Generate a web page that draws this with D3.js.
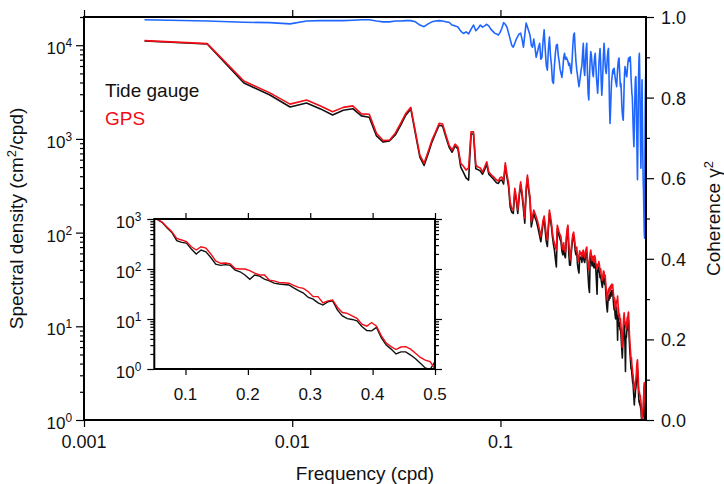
<!DOCTYPE html>
<html>
<head>
<meta charset="utf-8">
<script src="https://cdn.jsdelivr.net/npm/d3@7"></script>
<style>
body { margin: 0; background: #fff; }
svg { font-family: "Liberation Sans", Arial, Helvetica, sans-serif; }
</style>
</head>
<body>
<div id="chart"></div>
<script>
// spectra are sampled at k/512 cpd, k = 1..256
var nFreq = 256;
var freqStep = 1 / 512;

var tideGauge = [
    11100,10300,3950,2940,2190,2420,2090,1800,2020,2100,1760,1700,1075,925,950,1100,
    1400,1800,2090,1130,640,520,690,925,1150,1400,1370,1050,820,720,840,780,
    500,440,383,364,1130,1130,480,470,455,420,470,540,420,400,380,360,
    340,335,360,365,330,520,390,310,189,165,160,275,220,160,240,325,
    250,180,126,270,385,280,220,115,135,160,145,135,120,105,92,80,
    100,125,140,105,80,71,110,160,135,115,90,75,65,52,43,110,
    100,92,85,80,64,58,70,57,54,80,100,110,60,45,45,60,
    75,88,93,80,64,58,62,46,40,37,55,52,55,48,57,58,
    50,48,55,60,62,44,34,26,23,50,58,50,44,49,49,42,
    50,48,40,30,22,40,38,43,40,33,35,31,28,26,30,34,
    33,28,30,24,19,16,14.2,18,21,19,22,20,23,21,24,22,
    24,20,17,15,16,13,12,14,16,12,7.1,13,12,10,11,9.2,
    9.5,8.3,6.8,5.6,4.6,6.2,8,10,11,9.5,6,3.3,7.8,7.6,8.8,10,
    9.2,11,11.5,8.8,6.8,5.6,4.8,4.1,3.5,3.6,3.1,2.8,2.5,2.4,2.0,1.7,
    1.45,1.8,1.75,2.1,2.2,2.5,3.0,3.4,3.5,2.9,2.3,1.8,1.55,1.6,1.45,1.5,
    1.35,1.3,1.1,1.0,0.9,1.0,1.1,1.2,1.4,1.8,2.3,1.0,1.5,2.2,2.6,2.7
];

var gps = [
    11200,10400,4150,3100,2350,2600,2250,1950,2170,2250,1850,1830,1150,960,970,1150,
    1470,1880,2170,1190,670,550,730,970,1190,1470,1440,1100,860,760,880,820,
    550,510,465,490,1190,1190,525,500,490,445,500,570,445,420,400,383,
    365,355,385,392,355,557,420,338,214,180,174,297,240,174,260,349,
    270,200,143,300,412,300,240,130,150,174,160,148,135,120,105,90,
    110,135,150,120,95,83,120,174,150,126,100,85,77,70,65,120,
    110,100,95,90,72,66,78,64,62,88,110,120,78,60,51,68,
    82,96,101,88,72,65,70,55,49,56,64,58,61,55,63,65,
    57,54,62,67,70,52,44,40,50,60,65,57,50,56,55,48,
    57,54,47,44,41,46,44,49,45,39,41,36,33,31,35,39,
    38,33,35,29,24,22,19,22,25,23,26,24,27,25,28,26,
    28,24,21,19,20,16,15,17,19,18,21,17,15,12.6,13.5,11.5,
    12,10.3,8.5,7.2,6,7.8,10,12.5,13.9,12,10.5,11,9.8,9.5,11,12.5,
    11.5,13.5,14.2,11,8.5,7.1,6,5.2,4.4,4.6,3.9,3.6,3.2,3.0,2.6,2.3,
    2.1,2.3,2.2,2.6,2.7,3.1,3.8,4.2,4.4,3.6,2.9,2.2,1.94,2.0,1.8,1.85,
    1.7,1.6,1.35,1.12,1.0,1.1,1.25,1.34,1.6,2.0,2.5,2.1,1.7,1.35,1.12,1.0
];

var coherence = [
    0.993,0.990,0.987,0.986,0.983,0.990,0.991,0.991,0.991,0.992,0.993,0.993,0.990,0.988,0.988,0.990,
    0.990,0.991,0.991,0.988,0.980,0.976,0.983,0.988,0.990,0.991,0.990,0.988,0.987,0.980,0.978,0.975,
    0.965,0.959,0.963,0.958,0.970,0.980,0.966,0.972,0.980,0.975,0.978,0.982,0.978,0.970,0.965,0.960,
    0.958,0.955,0.962,0.972,0.986,0.982,0.975,0.960,0.945,0.930,0.925,0.935,0.945,0.952,0.958,0.960,
    0.945,0.925,0.955,0.985,0.975,0.965,0.955,0.930,0.925,0.945,0.925,0.900,0.912,0.925,0.935,0.895,
    0.900,0.940,0.968,0.920,0.880,0.868,0.920,0.950,0.905,0.880,0.840,0.835,0.880,0.910,0.930,0.932,
    0.905,0.890,0.870,0.86,0.85,0.87,0.90,0.91,0.895,0.90,0.895,0.89,0.88,0.885,0.87,0.86,
    0.89,0.93,0.955,0.96,0.92,0.89,0.87,0.856,0.84,0.827,0.84,0.855,0.87,0.88,0.91,0.935,
    0.87,0.855,0.89,0.92,0.935,0.86,0.81,0.794,0.85,0.89,0.914,0.905,0.88,0.86,0.852,0.88,
    0.90,0.91,0.88,0.85,0.83,0.811,0.84,0.88,0.905,0.922,0.89,0.84,0.806,0.83,0.87,0.91,
    0.935,0.91,0.88,0.865,0.86,0.88,0.90,0.915,0.922,0.86,0.78,0.736,0.77,0.81,0.84,0.852,
    0.865,0.87,0.86,0.873,0.86,0.85,0.84,0.835,0.827,0.85,0.87,0.885,0.895,0.898,0.87,0.845,
    0.827,0.835,0.81,0.78,0.76,0.75,0.744,0.78,0.83,0.86,0.877,0.87,0.86,0.855,0.852,0.865,
    0.88,0.89,0.898,0.89,0.895,0.90,0.901,0.88,0.85,0.83,0.81,0.802,0.77,0.73,0.70,0.678,
    0.72,0.78,0.83,0.85,0.852,0.80,0.72,0.65,0.596,0.68,0.78,0.86,0.90,0.91,0.85,0.76,
    0.68,0.625,0.70,0.79,0.844,0.76,0.67,0.60,0.571,0.52,0.47,0.451,0.66,0.802,0.85,0.877
];

// inset: band-averaged spectra at k/128 cpd, k = 6..64
var insetFirst = 6;
var insetStep = 1 / 128;
var insetTide = [
    1100,980,860,670,540,370,340,330,250,200,240,220,170,125,118,122,118,95,88,76,
    62,76,72,63,58,52,50,49,48,42,37,33,27,25,21,19,22,23,15,11.5,10.2,9.8,9.2,7.1,
    5.9,5.8,6.8,4.2,3.0,2.5,2.0,2.2,2.2,1.9,1.6,1.3,1.05,0.98,1.4
];
var insetGps = [
    1100,980,870,690,557,411,380,352,279,240,279,263,200,145,130,132,126,102,100,100,
    93,83,76,76,60,58,54,53,52,47,43,41,35,28,28,21,23,24,17,13.5,13,11.5,10.3,7.9,
    7.2,8.5,7.2,4.6,3.3,2.8,2.45,2.75,2.8,2.5,2.06,1.7,1.5,1.4,1.0
];

var xTicks = [0.001, 0.01, 0.1];
var xTickLabels = ["0.001", "0.01", "0.1"];
var yExponents = [0, 1, 2, 3, 4];
var cohTicks = [0, 0.2, 0.4, 0.6, 0.8, 1.0];
var cohMinor = [0.1, 0.3, 0.5, 0.7, 0.9];
var insetXTicks = [0.1, 0.2, 0.3, 0.4, 0.5];
var insetExponents = [0, 1, 2, 3];

var legendNames = ["Tide gauge", "GPS"];

var RED = "#f20d16", BLACK = "#111", BLUE = "#1f66ff";

var freq = d3.range(1, nFreq + 1).map(function(k) { return k * freqStep; });
var insetFreq = insetTide.map(function(d, i) { return (insetFirst + i) * insetStep; });

var width = 724, height = 484;
var margin = {top: 17, right: 78, bottom: 64, left: 84};
var w = width - margin.left - margin.right;
var h = height - margin.top - margin.bottom;

var svg = d3.select("#chart")
            .append("svg")
            .attr("width", width)
            .attr("height", height);

var g = svg.append("g")
           .attr("transform", "translate(" + margin.left + "," + margin.top + ")");

var x = d3.scaleLog().domain([0.001, 0.5]).range([0, w]);
var y = d3.scaleLog().domain([1, 2e4]).range([h, 0]);
var yc = d3.scaleLinear().domain([0, 1]).range([h, 0]);

function logMinors(lo, hi) {
    var out = [];
    for (var e = -3; e <= 5; e++) {
        for (var m = 2; m <= 9; m++) {
            var v = m * Math.pow(10, e);
            if (v > lo && v <= hi) out.push(v);
        }
    }
    return out;
}

function tickAxis(sel, axis) {
    sel.call(axis);
    sel.select(".domain").remove();
    sel.selectAll("line").attr("stroke", "#000").attr("stroke-width", 1.2);
    sel.selectAll("text").remove();
}

// 10^n labels with a raised exponent
function powLabel(parent, px, py, exp, size) {
    var t = parent.append("text")
        .attr("x", px).attr("y", py)
        .attr("text-anchor", "end")
        .style("font-size", size + "px")
        .attr("fill", "#111");
    t.append("tspan").text("10");
    t.append("tspan").attr("dy", -7).style("font-size", (size * 0.7) + "px").text(exp);
}

// clip
svg.append("defs").append("clipPath").attr("id", "mainClip")
    .append("rect").attr("width", w).attr("height", h);

// axes ticks
var majorsY = yExponents.map(function(e) { return Math.pow(10, e); });
tickAxis(g.append("g"), d3.axisLeft(y).tickValues(majorsY).tickSize(8));
tickAxis(g.append("g"), d3.axisLeft(y).tickValues(logMinors(1, 2e4)).tickSize(4));
tickAxis(g.append("g").attr("transform", "translate(0," + h + ")"), d3.axisBottom(x).tickValues(xTicks).tickSize(7));
tickAxis(g.append("g"), d3.axisTop(x).tickValues(xTicks).tickSize(7));
tickAxis(g.append("g").attr("transform", "translate(" + w + ",0)"), d3.axisRight(yc).tickValues(cohTicks).tickSize(8));
tickAxis(g.append("g").attr("transform", "translate(" + w + ",0)"), d3.axisRight(yc).tickValues(cohMinor).tickSize(4));

yExponents.forEach(function(e) {
    powLabel(g, -12, y(Math.pow(10, e)) + 9, e, 17);
});

g.selectAll(".xlab")
    .data(xTicks)
    .enter()
    .append("text")
    .attr("x", function(d) { return x(d); })
    .attr("y", h + 28)
    .attr("text-anchor", "middle")
    .style("font-size", "18px")
    .attr("fill", "#111")
    .text(function(d, i) { return xTickLabels[i]; });

g.selectAll(".clab")
    .data(cohTicks)
    .enter()
    .append("text")
    .attr("x", w + 15)
    .attr("y", function(d) { return yc(d) + 7; })
    .style("font-size", "18px")
    .attr("fill", "#111")
    .text(function(d) { return d3.format(".1f")(d); });

// titles
g.append("text")
    .attr("x", w / 2).attr("y", h + 60)
    .attr("text-anchor", "middle")
    .style("font-size", "19px")
    .attr("fill", "#111")
    .text("Frequency (cpd)");

var lt = g.append("text")
    .attr("transform", "translate(" + (-61) + "," + (h / 2) + ") rotate(-90)")
    .attr("text-anchor", "middle")
    .style("font-size", "19px")
    .attr("fill", "#111");
lt.append("tspan").text("Spectral density (cm");
lt.append("tspan").attr("dy", -7).style("font-size", "13px").text("2");
lt.append("tspan").attr("dy", 7).text("/cpd)");

var rt = g.append("text")
    .attr("transform", "translate(" + (w + 74) + "," + (h / 2) + ") rotate(-90)")
    .attr("text-anchor", "middle")
    .style("font-size", "19px")
    .attr("fill", "#111");
rt.append("tspan").text("Coherence \u03b3");
rt.append("tspan").attr("dy", -7).style("font-size", "13px").text("2");

// curves
var specLine = d3.line()
    .x(function(d) { return x(d[0]); })
    .y(function(d) { return y(d[1]); });
var cohLine = d3.line()
    .x(function(d) { return x(d[0]); })
    .y(function(d) { return yc(d[1]); });

var curves = g.append("g").attr("clip-path", "url(#mainClip)");
curves.append("path")
    .datum(d3.zip(freq, tideGauge))
    .attr("d", specLine)
    .attr("fill", "none").attr("stroke", BLACK).attr("stroke-width", 1.6).attr("stroke-linejoin", "round");
curves.append("path")
    .datum(d3.zip(freq, gps))
    .attr("d", specLine)
    .attr("fill", "none").attr("stroke", RED).attr("stroke-width", 1.6).attr("stroke-linejoin", "round");
curves.append("path")
    .datum(d3.zip(freq, coherence))
    .attr("d", cohLine)
    .attr("fill", "none").attr("stroke", BLUE).attr("stroke-width", 1.6).attr("stroke-linejoin", "round");

// legend
g.selectAll(".leg")
    .data(legendNames)
    .enter()
    .append("text")
    .attr("x", 21)
    .attr("y", function(d, i) { return 79.5 + i * 28.5; })
    .style("font-size", "19px")
    .attr("fill", function(d, i) { return i === 0 ? BLACK : RED; })
    .text(function(d) { return d; });

g.append("rect")
    .attr("width", w).attr("height", h)
    .attr("fill", "none").attr("stroke", "#000").attr("stroke-width", 2);

// inset
var inset = {left: 154.3 - margin.left, top: 219 - margin.top, w: 435 - 154.3, h: 150};
var ig = g.append("g").attr("transform", "translate(" + inset.left + "," + inset.top + ")");

var xi = d3.scaleLinear().domain([0.05, 0.5]).range([0, inset.w]);
var yi = d3.scaleLog().domain([1, 1000]).range([inset.h, 0]);

ig.append("rect").attr("width", inset.w).attr("height", inset.h).attr("fill", "#fff");

svg.select("defs").append("clipPath").attr("id", "insetClip")
    .append("rect").attr("width", inset.w).attr("height", inset.h);

var majorsI = insetExponents.map(function(e) { return Math.pow(10, e); });
tickAxis(ig.append("g"), d3.axisLeft(yi).tickValues(majorsI).tickSize(7));
tickAxis(ig.append("g"), d3.axisLeft(yi).tickValues(logMinors(1, 1000)).tickSize(4));
tickAxis(ig.append("g").attr("transform", "translate(" + inset.w + ",0)"), d3.axisRight(yi).tickValues(majorsI).tickSize(7));
tickAxis(ig.append("g").attr("transform", "translate(" + inset.w + ",0)"), d3.axisRight(yi).tickValues(logMinors(1, 1000)).tickSize(4));
tickAxis(ig.append("g").attr("transform", "translate(0," + inset.h + ")"), d3.axisBottom(xi).tickValues(insetXTicks).tickSize(6));
tickAxis(ig.append("g"), d3.axisTop(xi).tickValues(insetXTicks).tickSize(6));

insetExponents.forEach(function(e) {
    powLabel(ig, -13, yi(Math.pow(10, e)) + 8.5, e, 17);
});

ig.selectAll(".ixlab")
    .data(insetXTicks)
    .enter()
    .append("text")
    .attr("x", function(d) { return xi(d); })
    .attr("y", inset.h + 31)
    .attr("text-anchor", "middle")
    .style("font-size", "17px")
    .attr("fill", "#111")
    .text(function(d) { return d3.format(".1f")(d); });

var insetLine = d3.line()
    .x(function(d) { return xi(d[0]); })
    .y(function(d) { return yi(d[1]); });

var ic = ig.append("g").attr("clip-path", "url(#insetClip)");
ic.append("path")
    .datum(d3.zip(insetFreq, insetTide))
    .attr("d", insetLine)
    .attr("fill", "none").attr("stroke", BLACK).attr("stroke-width", 1.4);
ic.append("path")
    .datum(d3.zip(insetFreq, insetGps))
    .attr("d", insetLine)
    .attr("fill", "none").attr("stroke", RED).attr("stroke-width", 1.4);

ig.append("rect")
    .attr("width", inset.w).attr("height", inset.h)
    .attr("fill", "none").attr("stroke", "#000").attr("stroke-width", 2);
</script>
</body>
</html>
